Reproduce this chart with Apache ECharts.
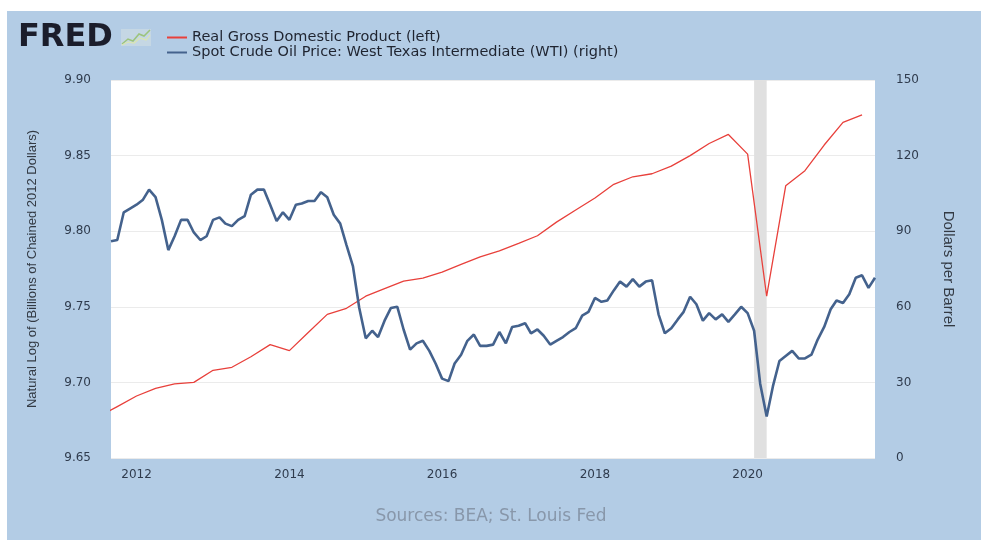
<!DOCTYPE html>
<html><head><meta charset="utf-8">
<script src="https://cdn.jsdelivr.net/npm/echarts@6/dist/echarts.min.js"></script>
<style>html,body{margin:0;padding:0;background:#fff}#c{width:981px;height:540px}</style>
</head><body><div id="c"></div>
<script>
// ---- data ----
const gdpName = 'Real Gross Domestic Product (left)';
const oilName = 'Spot Crude Oil Price: West Texas Intermediate (WTI) (right)';

const gdpDates = [
  '2011-07-01','2011-10-01',
  '2012-01-01','2012-04-01','2012-07-01','2012-10-01',
  '2013-01-01','2013-04-01','2013-07-01','2013-10-01',
  '2014-01-01','2014-04-01','2014-07-01','2014-10-01',
  '2015-01-01','2015-04-01','2015-07-01','2015-10-01',
  '2016-01-01','2016-04-01','2016-07-01','2016-10-01',
  '2017-01-01','2017-04-01','2017-07-01','2017-10-01',
  '2018-01-01','2018-04-01','2018-07-01','2018-10-01',
  '2019-01-01','2019-04-01','2019-07-01','2019-10-01',
  '2020-01-01','2020-04-01','2020-07-01','2020-10-01',
  '2021-01-01','2021-04-01','2021-07-01'
];
const gdpValues = [
  9.677, 9.684,
  9.691, 9.696, 9.699, 9.700,
  9.708, 9.710, 9.717, 9.725,
  9.721, 9.733, 9.745, 9.749,
  9.757, 9.762, 9.767, 9.769,
  9.773, 9.778, 9.783, 9.787,
  9.792, 9.797, 9.806, 9.814,
  9.822, 9.831, 9.836, 9.838,
  9.843, 9.850, 9.858, 9.864,
  9.851, 9.757, 9.830, 9.840,
  9.857, 9.872, 9.877
];

// monthly, first month = Sep 2011
const oilFirstMonth = [2011, 9];
const oilValues = [
  86.0, 86.5, 97.5, 99.0,                                              // 2011 Sep-Dec
  100.5, 102.5, 106.5, 103.5, 94.5, 82.5, 88.0, 94.5, 94.5, 89.5, 86.5, 88.0, // 2012
  94.5, 95.5, 93.0, 92.0, 94.5, 96.0, 104.5, 106.5, 106.5, 100.5, 94.0, 97.5, // 2013
  94.5, 100.5, 101.0, 102.0, 102.0, 105.5, 103.5, 96.5, 93.0, 84.5, 76.0, 59.5, // 2014
  47.5, 50.5, 48.0, 54.5, 59.5, 60.0, 51.0, 43.0, 45.5, 46.5, 42.5, 37.5,     // 2015
  31.5, 30.5, 37.5, 41.0, 46.5, 49.0, 44.5, 44.5, 45.0, 50.0, 45.5, 52.0,     // 2016
  52.5, 53.5, 49.5, 51.0, 48.5, 45.0, 46.5, 48.0, 50.0, 51.5, 56.5, 58.0,     // 2017
  63.5, 62.0, 62.5, 66.5, 70.0, 68.0, 71.0, 68.0, 70.0, 70.5, 57.0, 49.5,     // 2018
  51.5, 55.0, 58.0, 64.0, 61.0, 54.5, 57.5, 55.0, 57.0, 54.0, 57.0, 60.0,     // 2019
  57.5, 50.5, 29.5, 16.5, 28.5, 38.5, 40.5, 42.5, 39.5, 39.5, 41.0, 47.0,     // 2020
  52.0, 59.0, 62.5, 61.5, 65.0, 71.5, 72.5, 67.5, 71.5                        // 2021 Jan-Sep
];

const xTickYears = [2012, 2014, 2016, 2018, 2020];
const recession = ['2020-02-01', '2020-04-01'];
const xRange = ['2011-09-01', '2021-09-01'];
const leftRange = [9.65, 9.90, 0.05];
const rightRange = [0, 150, 30];
const leftAxisName = 'Natural Log of (Billions of Chained 2012 Dollars)';
const rightAxisName = 'Dollars per Barrel';
const sourceText = 'Sources: BEA; St. Louis Fed';

// ---- build ----
function monthDate(i) {
  const m0 = oilFirstMonth[0] * 12 + (oilFirstMonth[1] - 1) + i;
  const y = Math.floor(m0 / 12), m = m0 % 12 + 1;
  return y + '-' + String(m).padStart(2, '0') + '-01';
}
function ts(s) { const p = s.split('-').map(Number); return Date.UTC(p[0], p[1] - 1, p[2]); }
const gdpData = gdpDates.map((d, i) => [ts(d), gdpValues[i]]);
const oilData = oilValues.map((v, i) => [ts(monthDate(i)), v]);
const xTicks = xTickYears.map(y => Date.UTC(y, 0, 1));

const labelColor = '#2f3b4d';
const font = 'DejaVu Sans';

const chart = echarts.init(document.getElementById('c'), null, { renderer: 'canvas' });
chart.setOption({
  animation: false,
  backgroundColor: '#ffffff',
  graphic: [
    { type: 'rect', z: -100, shape: { x: 7, y: 11, width: 974, height: 529 }, style: { fill: '#b3cce5' } },
    { type: 'text', left: 18, top: 22, style: { text: 'FRED', font: 'bold 32px "DejaVu Sans"', fill: '#1b1d2b' } },
    { type: 'rect', shape: { x: 121, y: 29, width: 30, height: 17 }, style: { fill: '#c5d7e4' } },
    { type: 'polyline', shape: { points: [[122, 44], [128, 39], [133, 41], [139, 34], [144, 36], [150, 30]] }, style: { stroke: '#9cc47c', lineWidth: 1.5, fill: null } },
    { type: 'polyline', shape: { points: [[122, 45], [128, 42], [134, 43], [140, 38], [146, 40], [150, 35]] }, style: { stroke: '#dbe6b0', lineWidth: 1.2, fill: null } },
    { type: 'text', x: 491, y: 517, style: { text: sourceText, font: '17px "DejaVu Sans"', fill: '#8897aa', align: 'center', verticalAlign: 'middle' } }
  ],
  legend: {
    orient: 'vertical', left: 162, top: 25, itemWidth: 20, itemHeight: 2, itemGap: 0, icon: 'rect',
    textStyle: { fontSize: 14.5, lineHeight: 15, fontFamily: font, color: '#1f2430' },
    data: [gdpName, oilName]
  },
  grid: { left: 111, right: 106, top: 80, bottom: 82, show: true, backgroundColor: '#ffffff', borderWidth: 0 },
  xAxis: {
    type: 'value', min: ts(xRange[0]), max: ts(xRange[1]),
    axisLine: { show: false }, axisTick: { show: false }, splitLine: { show: false },
    axisLabel: {
      customValues: xTicks,
      formatter: v => String(new Date(v).getUTCFullYear()),
      color: labelColor, fontSize: 12, fontFamily: font, margin: 11
    }
  },
  yAxis: [
    {
      type: 'value', position: 'left', min: leftRange[0], max: leftRange[1], interval: leftRange[2],
      name: leftAxisName, nameLocation: 'middle', nameGap: 72, nameRotate: 90,
      nameTextStyle: { fontSize: 13, fontFamily: 'Liberation Sans', color: '#333a44' },
      axisLine: { show: false }, axisTick: { show: false },
      axisLabel: { formatter: v => v.toFixed(2), color: labelColor, fontSize: 12, fontFamily: font, margin: 20 },
      splitLine: { lineStyle: { color: '#ebebeb', width: 1 } }
    },
    {
      type: 'value', position: 'right', min: rightRange[0], max: rightRange[1], interval: rightRange[2],
      name: rightAxisName, nameLocation: 'middle', nameGap: 66, nameRotate: -90,
      nameTextStyle: { fontSize: 15, fontFamily: 'Liberation Sans', color: '#333a44' },
      axisLine: { show: false }, axisTick: { show: false },
      axisLabel: { color: labelColor, fontSize: 12, fontFamily: font, margin: 21 },
      splitLine: { show: false }
    }
  ],
  series: [
    {
      name: gdpName, type: 'line', yAxisIndex: 0, data: gdpData, showSymbol: false, symbol: 'none',
      lineStyle: { color: '#e8403b', width: 1.3 }, itemStyle: { color: '#e8403b' }, z: 2,
      markArea: { silent: true, itemStyle: { color: '#e0e0e0' }, data: [[{ xAxis: ts(recession[0]) }, { xAxis: ts(recession[1]) }]] }
    },
    {
      name: oilName, type: 'line', yAxisIndex: 1, data: oilData, showSymbol: false, symbol: 'none',
      lineStyle: { color: '#44628d', width: 2.6 }, itemStyle: { color: '#44628d' }, z: 3
    }
  ]
});
</script>
</body></html>
